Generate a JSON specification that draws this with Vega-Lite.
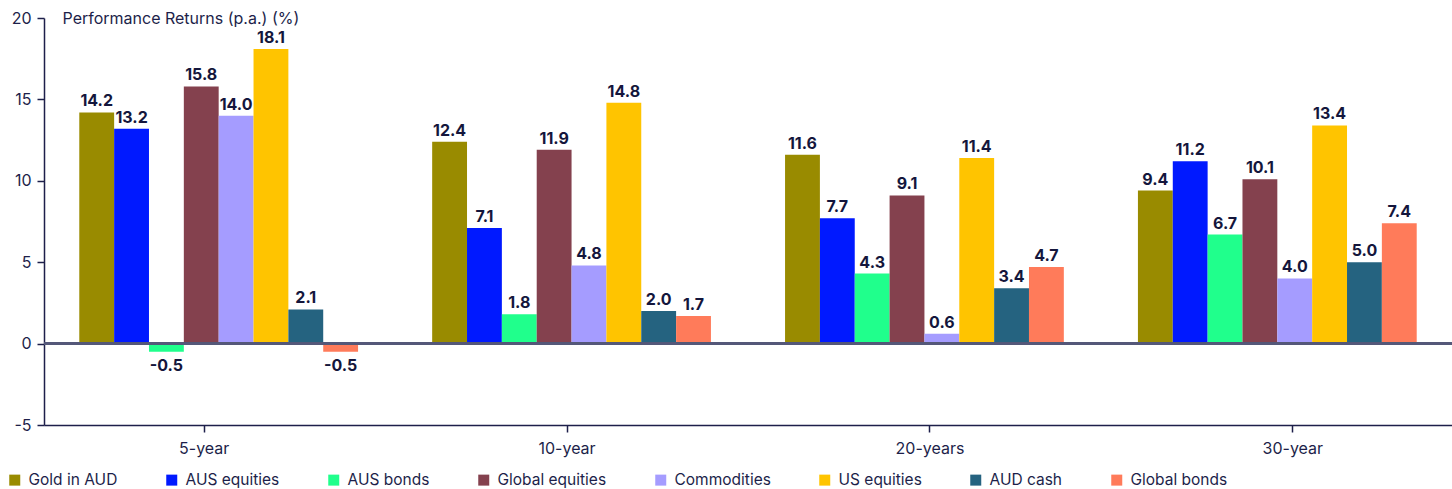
{
  "$schema": "https://vega.github.io/schema/vega-lite/v6.json",
  "width": 1408,
  "height": 407,
  "autosize": {"type": "none"},
  "padding": {"left": 44, "top": 18, "right": 0, "bottom": 64},
  "background": "white",
  "config": {
    "font": "Inter",
    "view": {"stroke": null},
    "locale": {"number": {"decimal": ".", "thousands": ",", "grouping": [3], "currency": ["$", ""], "minus": "-"}},
    "axis": {"labelColor": "#1d1f4a", "titleColor": "#1d1f4a", "domainColor": "#1d1f4a", "tickColor": "#1d1f4a", "labelFont": "Inter", "titleFont": "Inter", "grid": false}
  },
  "data": {
    "values": [
      {"period": "5-year", "series": "Gold in AUD", "value": 14.2},
      {"period": "5-year", "series": "AUS equities", "value": 13.2},
      {"period": "5-year", "series": "AUS bonds", "value": -0.5},
      {"period": "5-year", "series": "Global equities", "value": 15.8},
      {"period": "5-year", "series": "Commodities", "value": 14.0},
      {"period": "5-year", "series": "US equities", "value": 18.1},
      {"period": "5-year", "series": "AUD cash", "value": 2.1},
      {"period": "5-year", "series": "Global bonds", "value": -0.5},
      {"period": "10-year", "series": "Gold in AUD", "value": 12.4},
      {"period": "10-year", "series": "AUS equities", "value": 7.1},
      {"period": "10-year", "series": "AUS bonds", "value": 1.8},
      {"period": "10-year", "series": "Global equities", "value": 11.9},
      {"period": "10-year", "series": "Commodities", "value": 4.8},
      {"period": "10-year", "series": "US equities", "value": 14.8},
      {"period": "10-year", "series": "AUD cash", "value": 2.0},
      {"period": "10-year", "series": "Global bonds", "value": 1.7},
      {"period": "20-years", "series": "Gold in AUD", "value": 11.6},
      {"period": "20-years", "series": "AUS equities", "value": 7.7},
      {"period": "20-years", "series": "AUS bonds", "value": 4.3},
      {"period": "20-years", "series": "Global equities", "value": 9.1},
      {"period": "20-years", "series": "Commodities", "value": 0.6},
      {"period": "20-years", "series": "US equities", "value": 11.4},
      {"period": "20-years", "series": "AUD cash", "value": 3.4},
      {"period": "20-years", "series": "Global bonds", "value": 4.7},
      {"period": "30-year", "series": "Gold in AUD", "value": 9.4},
      {"period": "30-year", "series": "AUS equities", "value": 11.2},
      {"period": "30-year", "series": "AUS bonds", "value": 6.7},
      {"period": "30-year", "series": "Global equities", "value": 10.1},
      {"period": "30-year", "series": "Commodities", "value": 4.0},
      {"period": "30-year", "series": "US equities", "value": 13.4},
      {"period": "30-year", "series": "AUD cash", "value": 5.0},
      {"period": "30-year", "series": "Global bonds", "value": 7.4}
    ]
  },
  "layer": [
    {
      "mark": {"type": "bar"},
      "encoding": {
        "x": {"field": "period", "type": "nominal", "scale": {"domain": ["5-year", "10-year", "20-years", "30-year"], "paddingInner": 0.21, "paddingOuter": 0.1}, "axis": null},
        "xOffset": {"field": "series", "type": "nominal", "scale": {"domain": ["Gold in AUD", "AUS equities", "AUS bonds", "Global equities", "Commodities", "US equities", "AUD cash", "Global bonds"], "padding": 0}},
        "y": {"field": "value", "type": "quantitative", "scale": {"domain": [-5, 20], "nice": false, "zero": false},
          "axis": {"values": [-5, 0, 5, 10, 15, 20], "title": "Performance Returns (p.a.) (%)", "titleAngle": 0, "titleX": 18, "titleY": 0, "titleAlign": "left", "titleBaseline": "middle", "titleFontWeight": "normal", "titleFontSize": 16, "labelFontSize": 16, "tickSize": 7, "labelPadding": 6, "domainWidth": 1.5, "tickWidth": 1.5}},
        "color": {"field": "series", "type": "nominal",
          "scale": {"domain": ["Gold in AUD", "AUS equities", "AUS bonds", "Global equities", "Commodities", "US equities", "AUD cash", "Global bonds"],
                    "range": ["#998b00", "#0019ff", "#20ff8c", "#84414e", "#a59cff", "#ffc400", "#256380", "#ff7b5a"]},
          "legend": {"title": null, "orient": "none", "direction": "horizontal", "legendX": -37, "legendY": 454, "symbolType": "square", "symbolSize": 121, "symbolStrokeWidth": 0, "labelFontSize": 15.5, "labelColor": "#1d1f4a", "labelFont": "Inter", "labelOffset": 6, "columnPadding": 46}}
      }
    },
    {
      "mark": {"type": "rule", "color": "#55577a", "strokeWidth": 1.5},
      "encoding": {"y": {"datum": 0}}
    },
    {
      "transform": [{"filter": "datum.value >= 0"}],
      "mark": {"type": "text", "baseline": "alphabetic", "dy": -6, "fontSize": 16, "fontWeight": "bold", "color": "#14163c"},
      "encoding": {
        "x": {"field": "period", "type": "nominal", "scale": {"domain": ["5-year", "10-year", "20-years", "30-year"], "paddingInner": 0.21, "paddingOuter": 0.1}, "axis": null},
        "xOffset": {"field": "series", "type": "nominal", "scale": {"domain": ["Gold in AUD", "AUS equities", "AUS bonds", "Global equities", "Commodities", "US equities", "AUD cash", "Global bonds"], "padding": 0}},
        "y": {"field": "value", "type": "quantitative"},
        "text": {"field": "value", "type": "quantitative", "format": ".1f"}
      }
    },
    {
      "transform": [{"filter": "datum.value < 0"}],
      "mark": {"type": "text", "baseline": "top", "dy": 6, "fontSize": 16, "fontWeight": "bold", "color": "#14163c"},
      "encoding": {
        "x": {"field": "period", "type": "nominal", "scale": {"domain": ["5-year", "10-year", "20-years", "30-year"], "paddingInner": 0.21, "paddingOuter": 0.1}, "axis": null},
        "xOffset": {"field": "series", "type": "nominal", "scale": {"domain": ["Gold in AUD", "AUS equities", "AUS bonds", "Global equities", "Commodities", "US equities", "AUD cash", "Global bonds"], "padding": 0}},
        "y": {"field": "value", "type": "quantitative"},
        "text": {"field": "value", "type": "quantitative", "format": ".1f"}
      }
    },
    {
      "mark": {"type": "point", "opacity": 0},
      "encoding": {
        "x": {"field": "period", "type": "nominal", "scale": {"type": "point", "domain": ["5-year", "10-year", "20-years", "30-year"], "padding": 0.44},
          "axis": {"orient": "bottom", "title": null, "labelAngle": 0, "labelFontSize": 16, "tickSize": 7, "labelPadding": 8, "domainWidth": 1.5, "tickWidth": 1.5}},
        "y": {"datum": 0}
      }
    }
  ],
  "resolve": {"scale": {"x": "independent"}}
}
